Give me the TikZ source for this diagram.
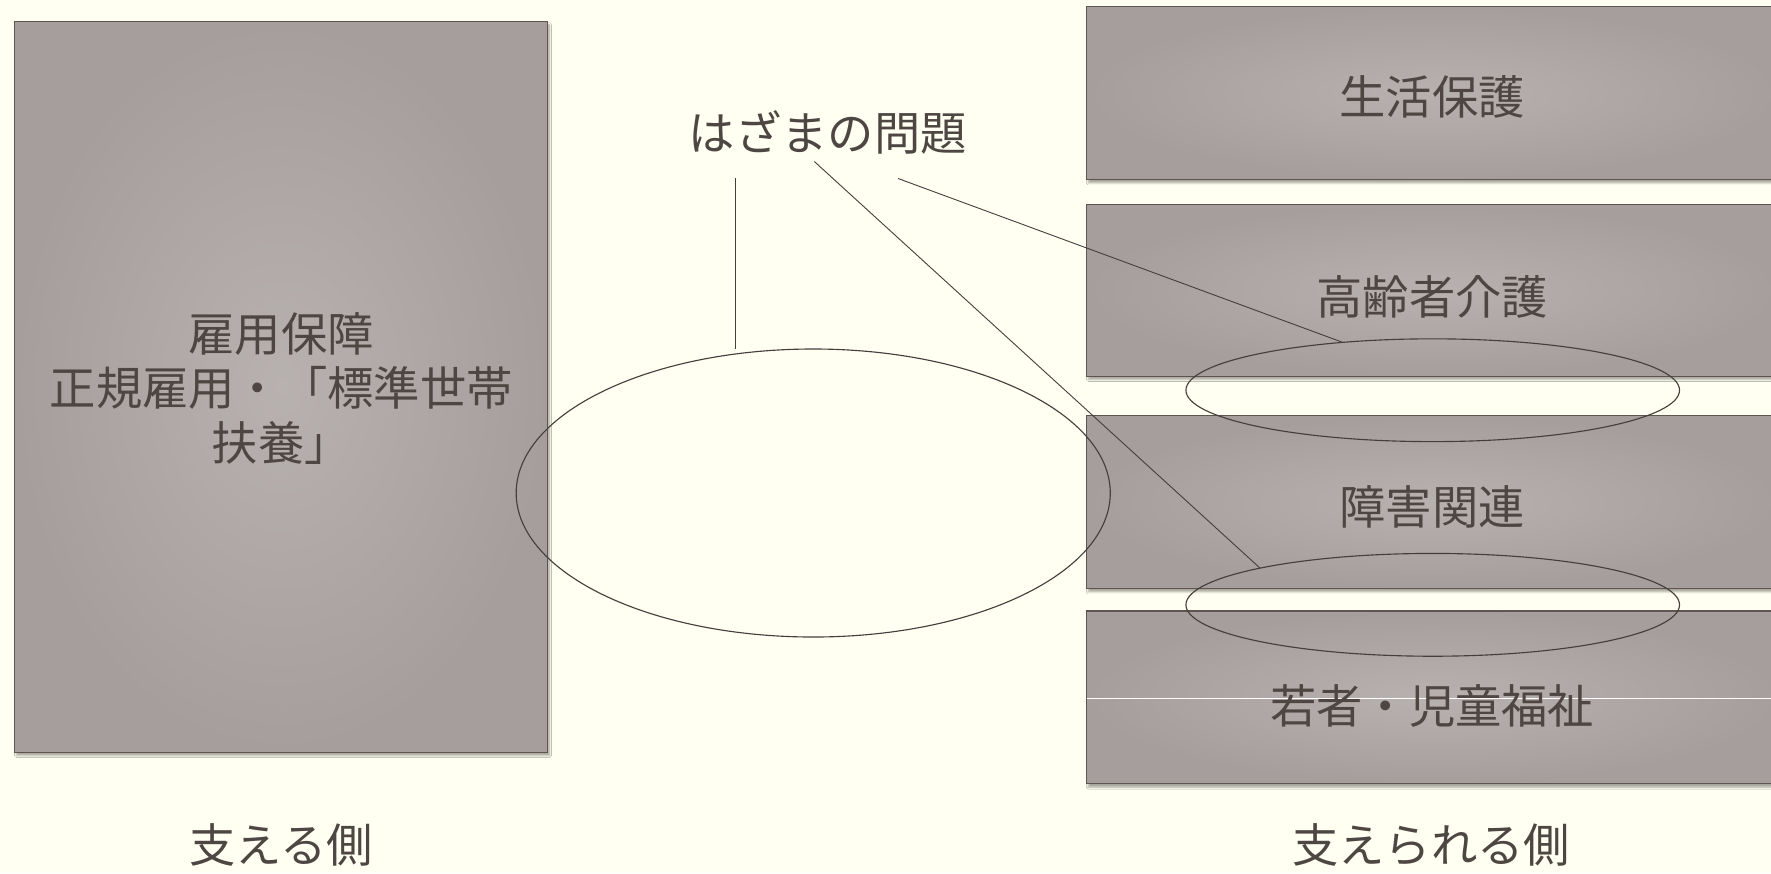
\documentclass[tikz,border=0pt]{standalone}
\usepackage{fontspec}
\newfontfamily\jp{Noto Sans CJK JP}
\usetikzlibrary{shapes.geometric,shadows,shadows.blur}
\definecolor{bg}{RGB}{255,255,242}
\definecolor{boxout}{RGB}{166,158,156}
\definecolor{boxin}{RGB}{183,177,175}
\definecolor{boxline}{RGB}{94,84,80}
\definecolor{txt}{RGB}{78,70,66}
\definecolor{ln}{RGB}{70,62,60}
\tikzset{
  panel/.style={rectangle, draw=boxline, line width=1pt, inner color=boxin, outer color=boxout,
    inner sep=0pt, outer sep=0pt,
    blur shadow={shadow xshift=1.5pt, shadow yshift=-3pt, shadow blur steps=6, shadow opacity=35}},
  lbl/.style={font=\jp\fontsize{41}{48}\selectfont, text=txt, align=center, inner sep=0pt},
  ring/.style={ellipse, draw=ln, line width=1pt, inner sep=0pt, outer sep=0pt},
  link/.style={draw=ln, line width=0.8pt}
}
\begin{document}
\begin{tikzpicture}[x=1pt,y=-1pt]
\fill[bg] (0,0) rectangle (1568,773);
\useasboundingbox (0,0) rectangle (1568,773);
% left panel
\node[panel, minimum width=472pt, minimum height=647pt] (left) at (249,342.5) {};
\node[lbl] (lefttxt) at (249,344) {雇用保障\\正規雇用・「標準世帯\\扶養」};
% right panels
\node[panel, minimum width=614pt, minimum height=153pt] (b1) at (1269,82.5) {};
\node[panel, minimum width=614pt, minimum height=152pt] (b2) at (1269,257) {};
\node[panel, minimum width=614pt, minimum height=153pt] (b3) at (1269,444.5) {};
\node[panel, minimum width=614pt, minimum height=153pt] (b4) at (1269,617.5) {};
\draw[white, line width=0.8pt] (b4.west |- 0,618) -- (1568,618);
\node[lbl] (t1) at (1268,86) {生活保護};
\node[lbl] (t2) at (1268,263) {高齢者介護};
\node[lbl] (t3) at (1268,449) {障害関連};
\node[lbl] (t4) at (1268,625) {若者・児童福祉};
% title
\node[lbl] (title) at (733,117) {はざまの問題};
% ellipses
\node[ring, minimum width=526pt, minimum height=255pt] (big) at (720,436.5) {};
\node[ring, minimum width=437pt, minimum height=91pt] (e1) at (1268.5,345.5) {};
\node[ring, minimum width=437pt, minimum height=91pt] (e2) at (1268.5,535.5) {};
% connectors
\coordinate (s1) at (651,158);
\coordinate (s2) at (721,143);
\coordinate (s3) at (795,158);
\draw[link] (s1) -- (s1 |- big.north);
\draw[link] (s2) -- (e2.168);
\draw[link] (s3) -- (e1.152.6);
% bottom labels
\node[lbl] (supL) at (249,748) {支える側};
\node[lbl] (supR) at (1267,748) {支えられる側};
\end{tikzpicture}
\end{document}
